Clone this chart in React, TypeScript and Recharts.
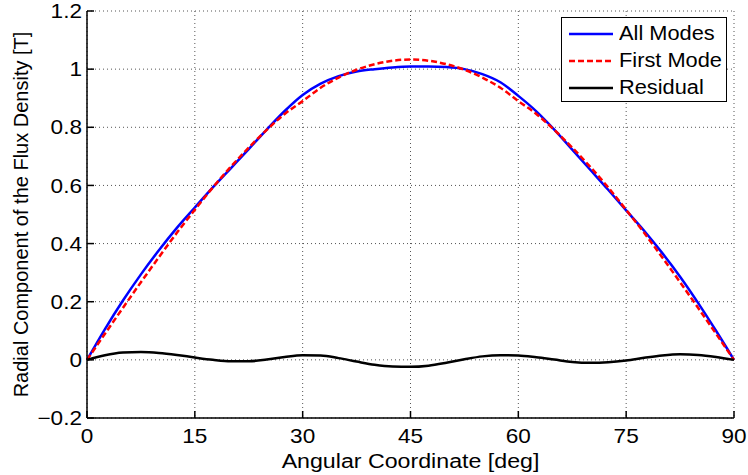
import { LineChart, Line, XAxis, YAxis, CartesianGrid, Legend } from 'recharts'

const angles = [
  0, 2.5, 5, 7.5, 10, 12.5, 15, 17.5, 20, 22.5, 25, 27.5, 30, 32.5, 35, 37.5, 40, 42.5, 45,
  47.5, 50, 52.5, 55, 57.5, 60, 62.5, 65, 67.5, 70, 72.5, 75, 77.5, 80, 82.5, 85, 87.5, 90,
]

const allModes = [
  0, 0.106, 0.204, 0.294, 0.377, 0.454, 0.524, 0.593, 0.659, 0.725, 0.792, 0.856, 0.911, 0.95,
  0.976, 0.992, 1.0, 1.006, 1.009, 1.009, 1.007, 1.0, 0.983, 0.955, 0.908, 0.855, 0.792, 0.723,
  0.654, 0.585, 0.514, 0.444, 0.368, 0.286, 0.196, 0.1, 0,
]

const firstMode = [
  0, 0.09, 0.179, 0.267, 0.353, 0.437, 0.516, 0.593, 0.664, 0.73, 0.791, 0.846, 0.89, 0.936,
  0.971, 0.998, 1.017, 1.029, 1.033, 1.029, 1.017, 0.998, 0.971, 0.936, 0.89, 0.846, 0.791, 0.73,
  0.664, 0.593, 0.516, 0.437, 0.353, 0.267, 0.179, 0.09, 0,
]

const residual = [
  0, 0.016, 0.025, 0.027, 0.024, 0.017, 0.008, 0.0, -0.005, -0.005, 0.001, 0.01, 0.016, 0.015,
  0.006, -0.006, -0.017, -0.023, -0.024, -0.02, -0.01, 0.002, 0.012, 0.016, 0.015, 0.009, 0.001,
  -0.007, -0.01, -0.008, -0.002, 0.007, 0.015, 0.019, 0.017, 0.01, 0,
]

const xTicks = [0, 15, 30, 45, 60, 75, 90]
const yTicks = [-0.2, 0, 0.2, 0.4, 0.6, 0.8, 1, 1.2]

const series = [
  { key: 'all', name: 'All Modes', color: '#0000ff', dash: undefined },
  { key: 'first', name: 'First Mode', color: '#ff0000', dash: '6 3' },
  { key: 'residual', name: 'Residual', color: '#000000', dash: undefined },
]

const data = angles.map((a, i) => ({
  angle: a,
  all: allModes[i],
  first: firstMode[i],
  residual: residual[i],
}))

const FONT = '"Liberation Sans", Arial, Helvetica, sans-serif'
const textStyle = { fontSize: 20, fontFamily: FONT, fill: '#000' }
const axisLine = { stroke: '#000', strokeWidth: 1.5 }

function fmtY(v: number) {
  const s = String(Math.round(v * 10) / 10)
  return v < 0 ? '\u2212' + s.slice(1) : s
}

// the source picture is a bit wider than tall, so text is stretched horizontally
function XTick({ x, y, payload }: any) {
  return (
    <text transform={`translate(${x} ${y}) scale(1.13 1)`} textAnchor="middle" dy="0.71em" style={textStyle}>
      {payload.value}
    </text>
  )
}

function YTick({ x, y, payload }: any) {
  return (
    <text transform={`translate(${x} ${y}) scale(1.13 1)`} textAnchor="end" dy="0.355em" style={textStyle}>
      {fmtY(payload.value)}
    </text>
  )
}

function YLabel({ viewBox }: any) {
  const cy = viewBox.y + viewBox.height / 2
  const cx = 28
  return (
    <text x={cx} y={cy} transform={`rotate(-90 ${cx} ${cy})`} textAnchor="middle" style={textStyle}>
      Radial Component of the Flux Density [T]
    </text>
  )
}

function XLabel({ viewBox }: any) {
  const cx = viewBox.x + viewBox.width / 2
  return (
    <text transform={`translate(${cx} 468) scale(1.16 1)`} textAnchor="middle" style={textStyle}>
      Angular Coordinate [deg]
    </text>
  )
}

function LegendBox() {
  return (
    <div
      style={{
        boxSizing: 'border-box',
        width: 166,
        height: 85,
        border: '1px solid #000',
        background: '#fff',
        paddingTop: 2,
        fontFamily: FONT,
        fontSize: 20,
        color: '#000',
      }}
    >
      {series.map((s) => (
        <div key={s.key} style={{ display: 'flex', alignItems: 'center', height: 27 }}>
          <svg width={57} height={10} style={{ display: 'block', flex: 'none' }}>
            <line x1={7} x2={51} y1={5} y2={5} stroke={s.color} strokeWidth={2.5} strokeDasharray={s.dash} />
          </svg>
          <span
            style={{
              lineHeight: '27px',
              whiteSpace: 'nowrap',
              display: 'inline-block',
              transform: 'scaleX(1.09)',
              transformOrigin: 'left center',
            }}
          >
            {s.name}
          </span>
        </div>
      ))}
    </div>
  )
}

export default function App() {
  return (
    <div style={{ position: 'absolute', left: 0, top: 0, width: 748, height: 475, background: '#fff' }}>
      <LineChart width={748} height={475} data={data} margin={{ top: 11, right: 14, bottom: 0, left: 0 }}>
        <CartesianGrid stroke="#555" strokeDasharray="1 3" />
        <XAxis
          dataKey="angle"
          type="number"
          domain={[0, 90]}
          ticks={xTicks}
          height={57}
          tickSize={-7}
          tickMargin={18}
          tick={<XTick />}
          axisLine={axisLine}
          tickLine={axisLine}
          label={<XLabel />}
        />
        <XAxis
          xAxisId="top"
          orientation="top"
          dataKey="angle"
          type="number"
          domain={[0, 90]}
          ticks={xTicks}
          height={0}
          tickSize={-7}
          tick={false}
          axisLine={axisLine}
          tickLine={axisLine}
        />
        <YAxis
          type="number"
          domain={[-0.2, 1.2]}
          ticks={yTicks}
          width={87}
          tickSize={-7}
          tickMargin={12}
          tick={<YTick />}
          axisLine={axisLine}
          tickLine={axisLine}
          label={<YLabel />}
        />
        <YAxis
          yAxisId="right"
          orientation="right"
          type="number"
          domain={[-0.2, 1.2]}
          ticks={yTicks}
          width={0}
          tickSize={-7}
          tick={false}
          axisLine={axisLine}
          tickLine={axisLine}
        />
        <Legend
          layout="vertical"
          align="center"
          verticalAlign="middle"
          content={<LegendBox />}
          wrapperStyle={{ position: 'absolute', left: 561, top: 17, width: 166, height: 85 }}
        />
        {series.map((s) => (
          <Line
            key={s.key}
            dataKey={s.key}
            name={s.name}
            type="monotone"
            stroke={s.color}
            strokeWidth={2.5}
            strokeDasharray={s.dash}
            dot={false}
            activeDot={false}
            isAnimationActive={false}
          />
        ))}
      </LineChart>
    </div>
  )
}
